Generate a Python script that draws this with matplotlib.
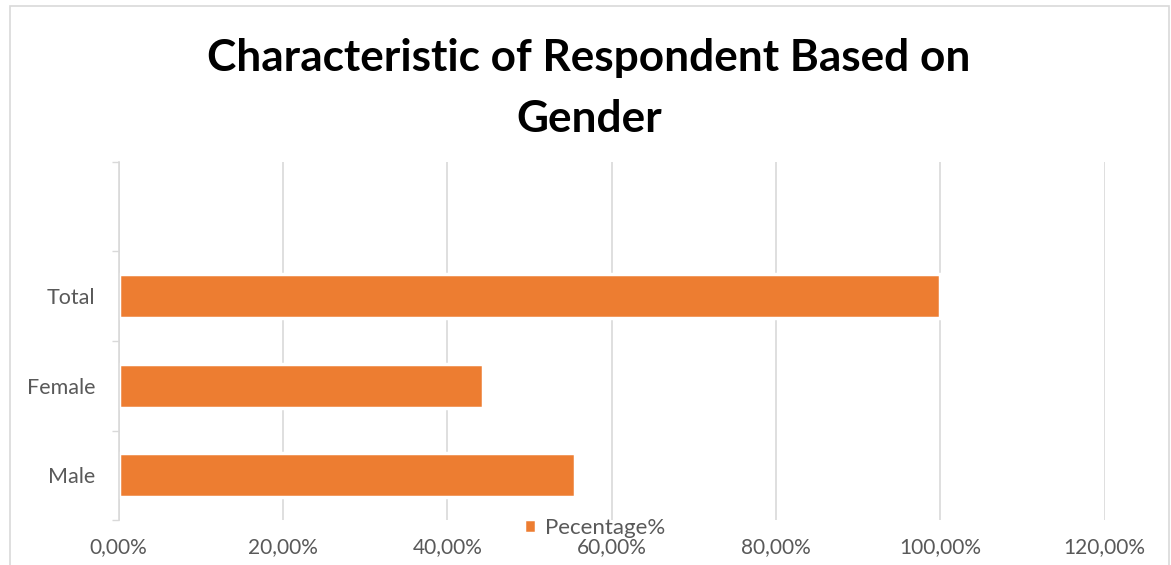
import numpy as np
import matplotlib
matplotlib.use("Agg")
import matplotlib.pyplot as plt
from matplotlib.patches import Rectangle

# data
categories = ["Male", "Female", "Total"]
percentage = [55.6, 44.4, 100.0]
x_ticks = [0, 20, 40, 60, 80, 100, 120]
x_labels = ["0,00%", "20,00%", "40,00%", "60,00%", "80,00%", "100,00%", "120,00%"]

plt.rcParams["font.family"] = ["Lato", "DejaVu Sans"]

fig = plt.figure(figsize=(11.71, 5.65), dpi=100)
ax = fig.add_axes([0.1012, 0.0796, 0.8422, 0.6337])

y = np.arange(len(categories))
ax.barh(y, percentage, height=0.49, color="#ED7D31", edgecolor="white",
        linewidth=2.5, label="Pecentage%", zorder=3)

# one empty slot above Total, like the original
ax.set_ylim(-0.5, len(categories) + 0.5)
ax.set_xlim(0, 120)

ax.set_xticks(x_ticks)
ax.set_xticklabels(x_labels)
ax.set_yticks(y)
ax.set_yticklabels(categories)
ax.set_yticks(np.arange(-0.5, len(categories) + 1), minor=True)

ax.tick_params(axis="x", length=0, pad=12, labelsize=15, labelcolor="#595959")
ax.tick_params(axis="y", which="major", length=0, pad=16.5, labelsize=15.5,
               labelcolor="#595959")
ax.tick_params(axis="y", which="minor", length=5, width=1, color="#d9d9d9")

ax.grid(axis="x", color="#d9d9d9", linewidth=1.2, zorder=0)
for s in ["top", "right", "bottom"]:
    ax.spines[s].set_visible(False)
ax.spines["left"].set_color("#d9d9d9")
ax.spines["left"].set_linewidth(1.2)
ax.spines["left"].set_zorder(4)

fig.text(0.503, 0.843, "Characteristic of Respondent Based on\nGender",
         ha="center", va="center", fontsize=31.8, fontweight="bold",
         linespacing=1.62)

fig.legend(loc="center", bbox_to_anchor=(0.508, 0.066), frameon=False,
           fontsize=16, labelcolor="#595959", handlelength=0.55,
           handleheight=0.55, handletextpad=0.4)

# chart area border
fig.patches.append(Rectangle((10 / 1171, -0.05), 1159 / 1171, 1.05 - 6 / 565,
                             transform=fig.transFigure, fill=False,
                             edgecolor="#d9d9d9", linewidth=1.2))

fig.savefig("out.png", dpi=100)
